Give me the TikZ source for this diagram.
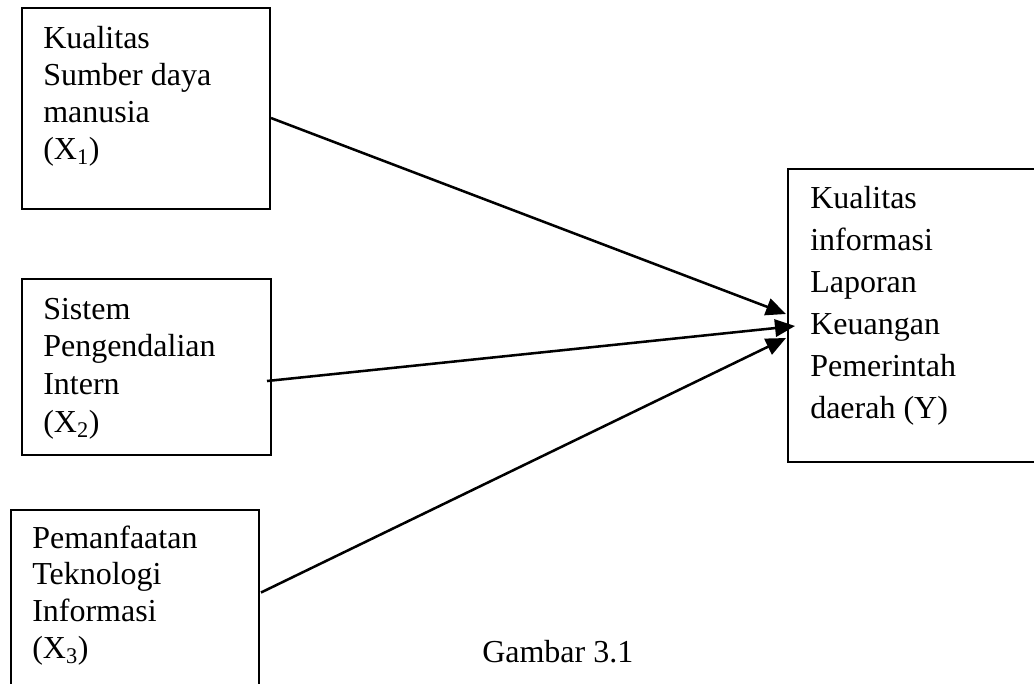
\documentclass[tikz,border=0pt]{standalone}
\usepackage{fontspec}
\setmainfont{Liberation Serif}
\usetikzlibrary{arrows.meta,calc,fit}
\begin{document}
\begin{tikzpicture}[x=0.75pt,y=-0.75pt,
  box/.style={draw=black,line width=1.5pt,inner sep=0pt},
  txt/.style={anchor=base west,inner sep=0pt,font=\fontsize{24pt}{28pt}\selectfont},
  arr/.style={line width=1.9pt,-{Triangle[length=15pt,width=13pt]}}]
\clip (0,0) rectangle (1034,683);
\fill[white] (0,0) rectangle (1034,683);

% boxes
\node[box,fit={(22,8) (270,209)}] (x1) {};
\node[box,fit={(22,279) (271,455)}] (x2) {};
\node[box,fit={(11,510) (259,705)}] (x3) {};
\node[box,fit={(788,169) (1045,462)}] (y) {};

% box texts, one node per line
\foreach \t [count=\i from 0] in {Kualitas,Sumber daya,manusia,(X\textsubscript{1})}
  \node[txt] (t1-\i) at (43,48+37.3*\i) {\t};
\foreach \t [count=\i from 0] in {Sistem,Pengendalian,Intern,(X\textsubscript{2})}
  \node[txt] (t2-\i) at (43,319+37.7*\i) {\t};
\foreach \t [count=\i from 0] in {Pemanfaatan,Teknologi,Informasi,(X\textsubscript{3})}
  \node[txt] (t3-\i) at (32,548+36.7*\i) {\t};
\foreach \t [count=\i from 0] in {Kualitas,informasi,Laporan,Keuangan,Pemerintah,daerah (Y)}
  \node[txt] (ty-\i) at (810,208+42*\i) {\t};

% caption
\node[txt] (cap) at (482,662) {Gambar 3.1};

% connectors
\draw[arr] ($(x1.east)+(0,9.5)$) -- ($(y.west)+(-1,-1.5)$);
\draw[arr] ($(x2.east)+(-5,14)$) -- ($(y.west)+(8,10.5)$);
\draw[arr] ($(x3.east)+(1,-15)$) -- ($(y.west)+(-1,22.5)$);
\end{tikzpicture}
\end{document}
